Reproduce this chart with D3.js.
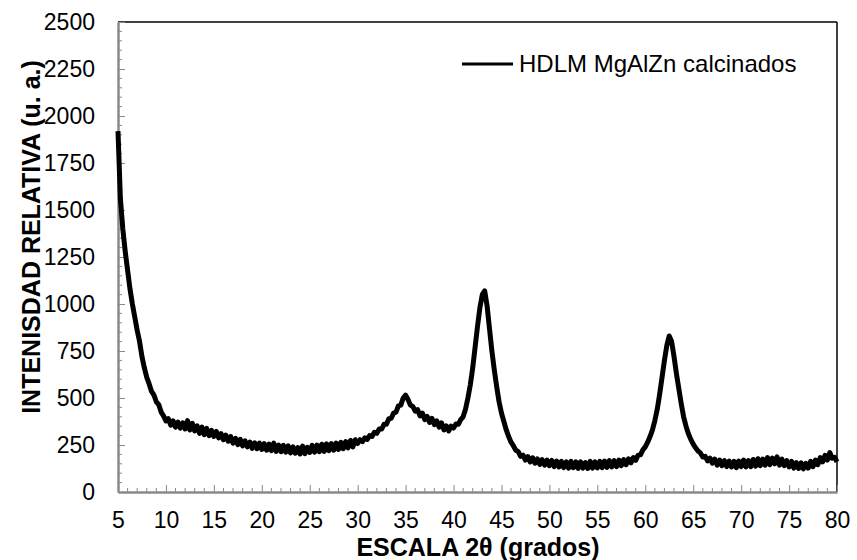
<!DOCTYPE html>
<html>
<head>
<meta charset="utf-8">
<script src="https://cdn.jsdelivr.net/npm/d3@7"></script>
<style>
  html, body { margin: 0; padding: 0; background: #fff; }
  svg { display: block; font-family: "Liberation Sans", Arial, sans-serif; }
</style>
</head>
<body>
<svg id="chart" width="857" height="560"></svg>
<script>
// XRD pattern: 2θ from 5° to 80° in 0.25° steps
const twoThetaStart = 5;
const twoThetaStep = 0.25;
const intensity = [
  1920, 1560, 1400, 1280, 1180, 1080, 1000, 930, 860, 800, 720, 660, 610, 575, 535, 515, 480, 465, 425, 405,
  378, 390, 355, 378, 345, 372, 340, 368, 335, 380, 330, 365, 325, 352, 312, 345, 305, 338, 300, 328,
  295, 322, 288, 310, 278, 302, 270, 295, 260, 286, 252, 280, 245, 272, 240, 266, 232, 262, 230, 260,
  226, 258, 222, 255, 220, 260, 216, 250, 214, 248, 212, 245, 208, 240, 206, 236, 202, 244, 204, 238,
  210, 248, 212, 250, 214, 254, 216, 256, 220, 258, 222, 260, 226, 264, 230, 268, 235, 274, 240, 278,
  258, 278, 268, 288, 280, 300, 295, 318, 312, 335, 335, 360, 360, 390, 392, 420, 425, 458, 462, 500,
  515, 492, 462, 455, 430, 438, 405, 420, 385, 402, 370, 392, 358, 378, 345, 368, 330, 352, 325, 350,
  340, 362, 360, 385, 400, 440, 500, 570, 660, 770, 880, 980, 1050, 1070, 990, 870, 750, 650, 560, 480,
  420, 375, 330, 295, 265, 245, 222, 215, 190, 196, 170, 188, 160, 182, 153, 176, 147, 172, 143, 170,
  140, 168, 135, 165, 133, 163, 130, 160, 127, 163, 129, 160, 125, 161, 127, 157, 125, 163, 127, 160,
  128, 163, 130, 165, 131, 167, 133, 167, 135, 170, 140, 173, 145, 177, 155, 183, 168, 196, 198, 224,
  240, 265, 295, 330, 380, 440, 520, 610, 700, 780, 830, 800, 720, 630, 550, 470, 400, 350, 310, 280,
  255, 235, 218, 208, 186, 190, 165, 180, 153, 175, 143, 170, 140, 167, 135, 165, 133, 163, 130, 165,
  135, 170, 133, 167, 135, 173, 137, 177, 140, 175, 143, 183, 145, 180, 150, 187, 143, 175, 140, 167,
  133, 163, 127, 157, 125, 155, 123, 153, 127, 163, 135, 170, 145, 183, 160, 195, 170, 210, 180, 185,
  160
];
const xTicks = [5, 10, 15, 20, 25, 30, 35, 40, 45, 50, 55, 60, 65, 70, 75, 80];
const yTicks = [0, 250, 500, 750, 1000, 1250, 1500, 1750, 2000, 2250, 2500];
const seriesName = "HDLM MgAlZn calcinados";
const xTitle = "ESCALA 2θ (grados)";
const yTitle = "INTENISDAD RELATIVA (u. a.)";

const data = intensity.map((v, i) => ({ x: twoThetaStart + i * twoThetaStep, y: v }));

const svg = d3.select("#chart");
const plot = { left: 118, right: 837, top: 22, bottom: 492 };

const x = d3.scaleLinear().domain([5, 80]).range([plot.left, plot.right]);
const y = d3.scaleLinear().domain([0, 2500]).range([plot.bottom, plot.top]);

const axisGray = "#8a8a8a";
const fontFamily = "Liberation Sans, Arial, sans-serif";

// top and right frame lines
svg.append("line")
  .attr("x1", plot.left).attr("x2", plot.right)
  .attr("y1", plot.top).attr("y2", plot.top)
  .attr("stroke", "#000").attr("stroke-width", 1.5);
svg.append("line")
  .attr("x1", plot.right).attr("x2", plot.right)
  .attr("y1", plot.top).attr("y2", plot.bottom)
  .attr("stroke", "#000").attr("stroke-width", 1.5);

// minor ticks (inward)
const xMinor = d3.range(6, 80, 1).filter(d => d % 5 !== 0);
svg.append("g").selectAll("line").data(xMinor).join("line")
  .attr("x1", d => x(d)).attr("x2", d => x(d))
  .attr("y1", plot.bottom).attr("y2", plot.bottom - 4)
  .attr("stroke", axisGray).attr("stroke-width", 1);
const yMinor = d3.range(50, 2500, 50).filter(d => d % 250 !== 0);
svg.append("g").selectAll("line").data(yMinor).join("line")
  .attr("x1", plot.left).attr("x2", plot.left + 4)
  .attr("y1", d => y(d)).attr("y2", d => y(d))
  .attr("stroke", axisGray).attr("stroke-width", 1);

// x axis
const gx = svg.append("g")
  .attr("transform", `translate(0,${plot.bottom})`)
  .call(d3.axisBottom(x).tickValues(xTicks).tickFormat(d3.format("d"))
    .tickSizeInner(-7).tickSizeOuter(0).tickPadding(20));
gx.select(".domain").attr("stroke", axisGray).attr("stroke-width", 2.5);
gx.selectAll(".tick line").attr("stroke", axisGray).attr("stroke-width", 1);
gx.selectAll(".tick text").attr("font-size", 23).attr("fill", "#000")
  .attr("font-family", fontFamily);

// y axis
const gy = svg.append("g")
  .attr("transform", `translate(${plot.left},0)`)
  .call(d3.axisLeft(y).tickValues(yTicks).tickFormat(d3.format("d"))
    .tickSizeInner(-7).tickSizeOuter(0).tickPadding(23));
gy.select(".domain").attr("stroke", axisGray).attr("stroke-width", 2.5);
gy.selectAll(".tick line").attr("stroke", axisGray).attr("stroke-width", 1);
gy.selectAll(".tick text").attr("font-size", 23).attr("fill", "#000")
  .attr("font-family", fontFamily);

// diffraction pattern
const line = d3.line().x(d => x(d.x)).y(d => y(d.y));
svg.append("path")
  .datum(data)
  .attr("d", line)
  .attr("fill", "none")
  .attr("stroke", "#000")
  .attr("stroke-width", 5)
  .attr("stroke-linejoin", "round");

// legend
svg.append("line")
  .attr("x1", 462).attr("x2", 513)
  .attr("y1", 64).attr("y2", 64)
  .attr("stroke", "#000").attr("stroke-width", 3);
svg.append("text")
  .attr("x", 519).attr("y", 72)
  .attr("font-size", 24).attr("fill", "#000")
  .text(seriesName);

// axis titles
svg.append("text")
  .attr("x", 478).attr("y", 556)
  .attr("text-anchor", "middle")
  .attr("font-size", 25).attr("font-weight", "bold").attr("fill", "#000")
  .text(xTitle);
svg.append("text")
  .attr("transform", "translate(40,237) rotate(-90)")
  .attr("text-anchor", "middle")
  .attr("font-size", 25).attr("font-weight", "bold").attr("fill", "#000")
  .text(yTitle);
</script>
</body>
</html>
